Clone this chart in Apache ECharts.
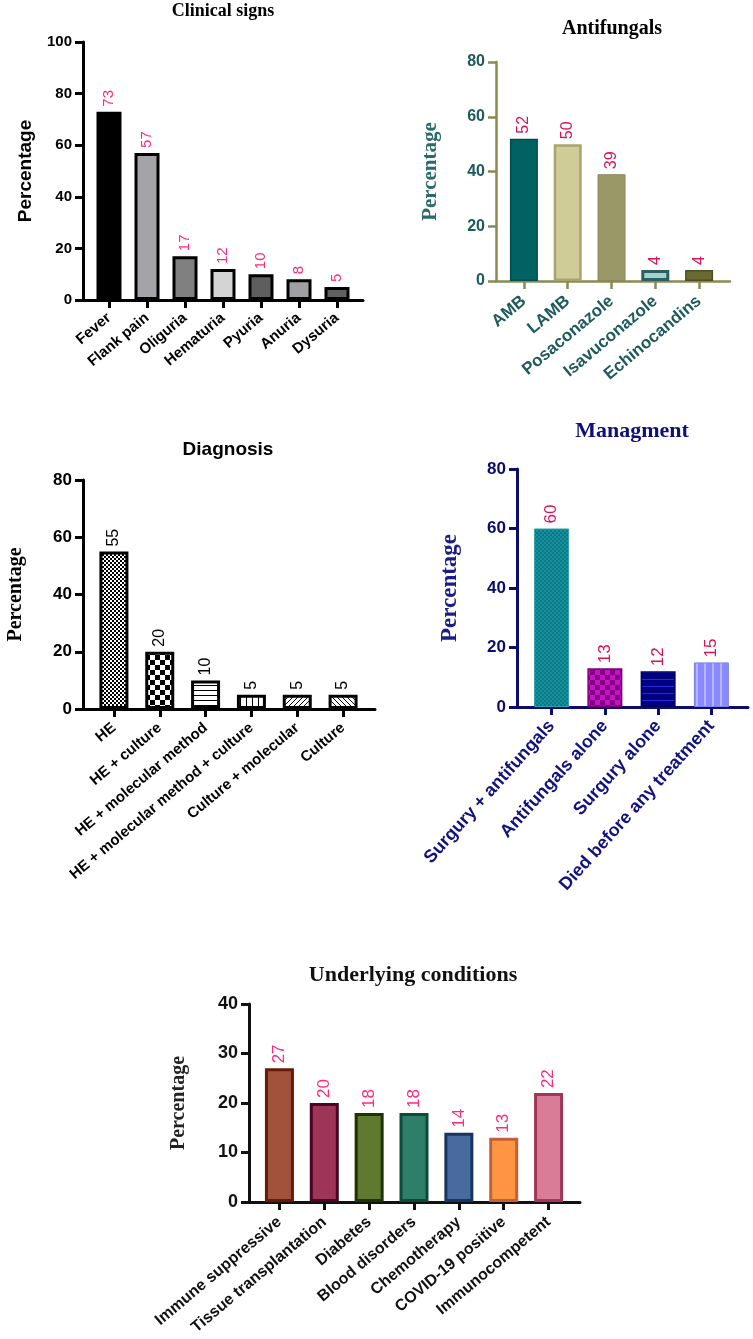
<!DOCTYPE html>
<html>
<head>
<meta charset="utf-8">
<script src="https://cdn.jsdelivr.net/npm/echarts@6/dist/echarts.min.js"></script>
<style>html,body{margin:0;padding:0;background:#fff;}#c{width:753px;height:1339px;}</style>
</head>
<body>
<div id="c"></div>
<script>
// ---- Data ----
const clinicalCats = ['Fever','Flank pain','Oliguria','Hematuria','Pyuria','Anuria','Dysuria'];
const clinicalVals = [73,57,17,12,10,8,5];
const clinicalAxis = {max:100, interval:20};

const antifungalCats = ['AMB','LAMB','Posaconazole','Isavuconazole','Echinocandins'];
const antifungalVals = [52,50,39,4,4];
const antifungalAxis = {max:80, interval:20};

const diagnosisCats = ['HE','HE + culture','HE + molecular method','HE + molecular method + culture','Culture + molecular','Culture'];
const diagnosisVals = [55,20,10,5,5,5];
const diagnosisAxis = {max:80, interval:20};

const managementCats = ['Surgury + antifungals','Antifungals alone','Surgury alone','Died before any treatment'];
const managementVals = [60,13,12,15];
const managementAxis = {max:80, interval:20};

const underlyingCats = ['Immune suppressive','Tissue transplantation','Diabetes','Blood disorders','Chemotherapy','COVID-19 positive','Immunocompetent'];
const underlyingVals = [27,20,18,18,14,13,22];
const underlyingAxis = {max:40, interval:10};

// ---- pattern helpers ----
function pat(w,h,bg,fg,draw){
  const c=document.createElement('canvas'); c.width=w; c.height=h;
  const x=c.getContext('2d'); x.fillStyle=bg; x.fillRect(0,0,w,h); x.fillStyle=fg; x.strokeStyle=fg; draw(x,w,h);
  return {image:c, repeat:'repeat'};
}
function checker(n,bg,fg){return pat(2*n,2*n,bg,fg,(x)=>{x.fillRect(0,0,n,n);x.fillRect(n,n,n,n);});}
function hlines(p,bg,fg,lw){return pat(p,p,bg,fg,(x,w)=>{x.fillRect(0,0,w,lw||1);});}
function vlines(p,bg,fg,lw){return pat(p,p,bg,fg,(x,w,h)=>{x.fillRect(0,0,lw||1,h);});}
function diag(p,bg,fg,dir){return pat(p,p,bg,fg,(x,w,h)=>{x.lineWidth=1;x.beginPath();
  if(dir>0){x.moveTo(0,h);x.lineTo(w,0);x.moveTo(-w,h);x.lineTo(0,0);x.moveTo(w,2*h);x.lineTo(2*w,h);}
  else{x.moveTo(0,0);x.lineTo(w,h);x.moveTo(-w,0);x.lineTo(0,h);x.moveTo(w,-h);x.lineTo(2*w,0);}
  x.stroke();});}

const SANS='"Liberation Sans", Arial, sans-serif';
const SERIF='"Liberation Serif", "Times New Roman", serif';

const grids=[], xAxes=[], yAxes=[], series=[], titles=[];

function addChart(cfg){
  const gi=grids.length;
  // frame grid: axis lines + y ticks/labels
  grids.push({left:cfg.axisX, top:cfg.top, width:cfg.axisEnd-cfg.axisX, height:cfg.height});
  xAxes.push({gridIndex:gi, type:'value', min:0, max:1, axisLine:{show:true,lineStyle:{color:cfg.axisColor,width:cfg.axisW}},
    axisTick:{show:false}, axisLabel:{show:false}, splitLine:{show:false}});
  yAxes.push({gridIndex:gi, type:'value', min:0, max:cfg.axis.max, interval:cfg.axis.interval,
    axisLine:{show:true,lineStyle:{color:cfg.axisColor,width:cfg.axisW}},
    axisTick:{show:true,length:8,lineStyle:{color:cfg.axisColor,width:cfg.axisW}},
    axisLabel:{color:cfg.tickColor,fontWeight:'bold',fontSize:cfg.tickSize,fontFamily:SANS,margin:11},
    splitLine:{show:false},
    name:'Percentage', nameLocation:'middle', nameGap:cfg.nameGap,
    nameTextStyle:{color:cfg.nameColor,fontWeight:'bold',fontSize:cfg.nameSize,fontFamily:cfg.nameFont}});
  // bars grid
  const bi=grids.length;
  grids.push({left:cfg.barsLeft, top:cfg.top, width:cfg.barsWidth, height:cfg.height});
  xAxes.push({gridIndex:bi, type:'category', data:cfg.cats, axisLine:{show:false},
    axisTick:{show:true,alignWithLabel:true,length:8,lineStyle:{color:cfg.axisColor,width:cfg.axisW}},
    axisLabel:{interval:0,rotate:cfg.rot,color:cfg.catColor,fontWeight:'bold',fontSize:cfg.catSize,fontFamily:SANS,margin:cfg.catMargin},
    splitLine:{show:false}});
  yAxes.push({gridIndex:bi, type:'value', min:0, max:cfg.axis.max, show:false});
  series.push({type:'bar', xAxisIndex:bi, yAxisIndex:bi, barWidth:cfg.barWidth,
    data:cfg.vals.map((v,i)=>({value:v,itemStyle:{color:cfg.fills[i],borderColor:cfg.borders[i],borderWidth:cfg.bw[i]}})),
    label:{show:true,position:'top',rotate:90,align:'left',verticalAlign:'middle',distance:5,
      color:cfg.valColor,fontSize:cfg.valSize||15,fontFamily:SANS}});
  titles.push({text:cfg.title, left:cfg.titleX, top:cfg.titleY, textAlign:'center', padding:0,
    textStyle:{fontFamily:cfg.titleFont,fontWeight:'bold',fontSize:cfg.titleSize,color:cfg.titleColor}});
}

// Chart 1: Clinical signs
addChart({cats:clinicalCats, vals:clinicalVals, axis:clinicalAxis,
  axisX:83, axisEnd:363, top:42, height:258, barsLeft:90, barsWidth:266, barWidth:25,
  axisColor:'#000', axisW:3, tickColor:'#000', tickSize:15, nameGap:48, nameColor:'#000', nameSize:19, nameFont:SANS,
  catColor:'#000', catSize:15, valColor:'#ff2a80', rot:40, catMargin:16,
  fills:['#000000','#a3a3a8','#808080','#d4d4d4','#5e5e5e','#a0a0a4','#606060'],
  borders:Array(7).fill('#000'), bw:Array(7).fill(3),
  title:'Clinical signs', titleX:223, titleY:2, titleFont:SERIF, titleSize:18, titleColor:'#000'});

// Chart 2: Antifungals
addChart({cats:antifungalCats, vals:antifungalVals, axis:antifungalAxis,
  axisX:496, axisEnd:730, top:62, height:219, barsLeft:502, barsWidth:219, barWidth:28,
  axisColor:'#8a8a52', axisW:2.5, tickColor:'#1e5a5a', tickSize:16, nameGap:55, nameColor:'#2a6a6a', nameSize:21, nameFont:SERIF,
  catColor:'#1e5a5a', catSize:17, valColor:'#d6145a', rot:40, valSize:16, catMargin:18,
  fills:['#006262','#d0cc98','#9a9866','#a0d4d4','#6b6a32'],
  borders:['#004e4e','#a8a472','#8a8858','#2e5e5e','#4e4e22'], bw:[1.5,2.5,1,3,1.5],
  title:'Antifungals', titleX:612, titleY:19, titleFont:SERIF, titleSize:20, titleColor:'#000'});

// Chart 3: Diagnosis
addChart({cats:diagnosisCats, vals:diagnosisVals, axis:diagnosisAxis,
  axisX:83, axisEnd:375, top:480, height:229, barsLeft:91, barsWidth:275, barWidth:29,
  axisColor:'#000', axisW:3, tickColor:'#000', tickSize:17, nameGap:57, nameColor:'#000', nameSize:20, nameFont:SERIF,
  catColor:'#000', catSize:15, valColor:'#000', rot:40, valSize:16, catMargin:17,
  fills:[checker(2,'#fff','#000'), checker(5,'#fff','#000'), hlines(5,'#fff','#000',1), vlines(6,'#fff','#000',1),
         diag(5,'#fff','#000',1), diag(5,'#fff','#000',-1)],
  borders:Array(6).fill('#000'), bw:Array(6).fill(3),
  title:'Diagnosis', titleX:228, titleY:440, titleFont:SANS, titleSize:19, titleColor:'#000'});

// Chart 4: Managment
addChart({cats:managementCats, vals:managementVals, axis:managementAxis,
  axisX:517, axisEnd:748, top:469, height:238, barsLeft:525, barsWidth:213, barWidth:35,
  axisColor:'#0c0c6e', axisW:3, tickColor:'#0c0c6e', tickSize:17, nameGap:55, nameColor:'#1c1c86', nameSize:23, nameFont:SERIF,
  catColor:'#12127e', catSize:18, valColor:'#d6145a', rot:48, valSize:17, catMargin:16,
  fills:[checker(2,'#1590a0','#0b7882'), checker(5,'#c412c4','#860086'), hlines(7,'#000080','#2a2ad6',1), vlines(8,'#8a8aff','#b4b4ff',2)],
  borders:['#2aa0aa','#7a007a','#000060','#8080f0'], bw:[1,1.5,1.5,1],
  title:'Managment', titleX:632, titleY:420, titleFont:SERIF, titleSize:22, titleColor:'#10107a'});

// Chart 5: Underlying conditions
addChart({cats:underlyingCats, vals:underlyingVals, axis:underlyingAxis,
  axisX:249, axisEnd:580, top:1004, height:198, barsLeft:257, barsWidth:314, barWidth:29,
  axisColor:'#111', axisW:3, tickColor:'#111', tickSize:18, nameGap:60, nameColor:'#222', nameSize:20, nameFont:SERIF,
  catColor:'#111', catSize:16, valColor:'#ff2a80', rot:40, valSize:17, catMargin:18,
  fills:['#a0533a','#9c3558','#5f7a2f','#2e7e6a','#466b9c','#ff9443','#d87c97'],
  borders:['#6a1808','#4a0522','#1e3204','#0c4a3a','#1a3462','#c0603c','#a03658'], bw:Array(7).fill(3),
  title:'Underlying conditions', titleX:413, titleY:964, titleFont:SERIF, titleSize:22, titleColor:'#111'});

const chart=echarts.init(document.getElementById('c'),null,{renderer:'canvas'});
chart.setOption({backgroundColor:'#fff', animation:false, title:titles, grid:grids, xAxis:xAxes, yAxis:yAxes, series:series});
</script>
</body>
</html>
